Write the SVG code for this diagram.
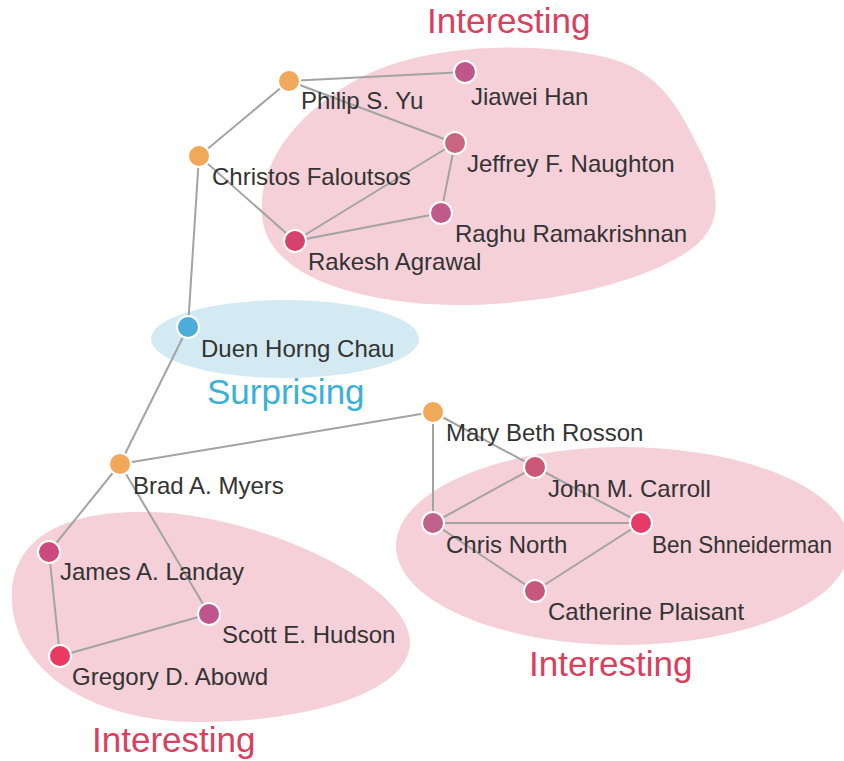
<svg xmlns="http://www.w3.org/2000/svg" width="844" height="761" viewBox="0 0 844 761">
<style>
.blob{fill:#F5D0D8}
.sblob{fill:#D3EAF2}
.edge{stroke:#A3A3A3;stroke-width:2;fill:none}
.node{stroke:#fff;stroke-width:2}
.lbl{font-family:"Liberation Sans",Arial,sans-serif;font-size:24px;fill:#333}
.grp{font-family:"Liberation Sans",Arial,sans-serif;font-size:35px}
.int{fill:#D9405E}
.sur{fill:#3BB0D8}
.org{fill:#F0A95A}
</style>
<g id="regions">
<path class="blob" d="M 262,215 C 258,160 300,110 360,78 C 420,46 520,40 600,56 C 660,68 680,110 700,150 C 720,190 725,225 690,250 C 640,285 540,305 460,305 C 370,305 266,280 262,215 Z"/>
<ellipse class="sblob" cx="285" cy="339" rx="134" ry="39"/>
<ellipse class="blob" cx="623" cy="546" rx="227" ry="99"/>
<path class="blob" d="M 12,600 C 10,540 60,510 150,512 C 260,514 410,585 410,642 C 410,695 300,722 200,722 C 90,722 14,670 12,600 Z"/>
</g>
<g id="connectors">
<line class="edge" x1="289" y1="81" x2="465" y2="72"/>
<line class="edge" x1="289" y1="81" x2="455" y2="143"/>
<line class="edge" x1="289" y1="81" x2="199" y2="156"/>
<line class="edge" x1="199" y1="156" x2="295" y2="241"/>
<line class="edge" x1="199" y1="156" x2="188" y2="327"/>
<line class="edge" x1="455" y1="143" x2="295" y2="241"/>
<line class="edge" x1="455" y1="143" x2="441" y2="213"/>
<line class="edge" x1="441" y1="213" x2="295" y2="241"/>
<line class="edge" x1="188" y1="327" x2="120" y2="464"/>
<line class="edge" x1="120" y1="464" x2="433" y2="412"/>
<line class="edge" x1="120" y1="464" x2="49" y2="552"/>
<line class="edge" x1="120" y1="464" x2="209" y2="614"/>
<line class="edge" x1="49" y1="552" x2="60" y2="656"/>
<line class="edge" x1="60" y1="656" x2="209" y2="614"/>
<line class="edge" x1="433" y1="412" x2="433" y2="523"/>
<line class="edge" x1="433" y1="412" x2="535" y2="467"/>
<line class="edge" x1="535" y1="467" x2="641" y2="523"/>
<line class="edge" x1="535" y1="467" x2="433" y2="523"/>
<line class="edge" x1="433" y1="523" x2="641" y2="523"/>
<line class="edge" x1="433" y1="523" x2="535" y2="591"/>
<line class="edge" x1="535" y1="591" x2="641" y2="523"/>
</g>
<g id="n-philip"><circle class="node org" cx="289" cy="81" r="11"/><text class="lbl" x="301" y="109">Philip S. Yu</text></g>
<g id="n-jiawei"><circle class="node" fill="#C0578A" cx="465" cy="72" r="11"/><text class="lbl" x="471" y="105">Jiawei Han</text></g>
<g id="n-christos"><circle class="node org" cx="199" cy="156" r="11"/><text class="lbl" x="212" y="185">Christos Faloutsos</text></g>
<g id="n-jeffrey"><circle class="node" fill="#C9657F" cx="455" cy="143" r="11"/><text class="lbl" x="467" y="172">Jeffrey F. Naughton</text></g>
<g id="n-raghu"><circle class="node" fill="#C05A8A" cx="441" cy="213" r="11"/><text class="lbl" x="455" y="242">Raghu Ramakrishnan</text></g>
<g id="n-rakesh"><circle class="node" fill="#D6426E" cx="295" cy="241" r="11"/><text class="lbl" x="308" y="270">Rakesh Agrawal</text></g>
<g id="n-duen"><circle class="node" fill="#4AAED9" cx="188" cy="327" r="11"/><text class="lbl" x="201" y="357">Duen Horng Chau</text></g>
<g id="n-mary"><circle class="node org" cx="433" cy="412" r="11"/><text class="lbl" x="446" y="441">Mary Beth Rosson</text></g>
<g id="n-brad"><circle class="node org" cx="120" cy="464" r="11"/><text class="lbl" x="133" y="494">Brad A. Myers</text></g>
<g id="n-john"><circle class="node" fill="#CC5878" cx="535" cy="467" r="11"/><text class="lbl" x="548" y="497">John M. Carroll</text></g>
<g id="n-chris"><circle class="node" fill="#C0628A" cx="433" cy="523" r="11"/><text class="lbl" x="446" y="553">Chris North</text></g>
<g id="n-ben"><circle class="node" fill="#E63B69" cx="641" cy="523" r="11"/><text class="lbl" x="652" y="553" textLength="180" lengthAdjust="spacingAndGlyphs">Ben Shneiderman</text></g>
<g id="n-catherine"><circle class="node" fill="#C8577E" cx="535" cy="591" r="11"/><text class="lbl" x="548" y="620">Catherine Plaisant</text></g>
<g id="n-james"><circle class="node" fill="#CC4A7E" cx="49" cy="552" r="11"/><text class="lbl" x="60" y="580">James A. Landay</text></g>
<g id="n-scott"><circle class="node" fill="#BF558A" cx="209" cy="614" r="11"/><text class="lbl" x="222" y="643">Scott E. Hudson</text></g>
<g id="n-gregory"><circle class="node" fill="#EB3A62" cx="60" cy="656" r="11"/><text class="lbl" x="72" y="685">Gregory D. Abowd</text></g>
<g id="labels">
<text class="grp int" x="427" y="33">Interesting</text>
<text class="grp sur" x="207" y="404">Surprising</text>
<text class="grp int" x="529" y="676">Interesting</text>
<text class="grp int" x="92" y="752">Interesting</text>
</g>
</svg>
